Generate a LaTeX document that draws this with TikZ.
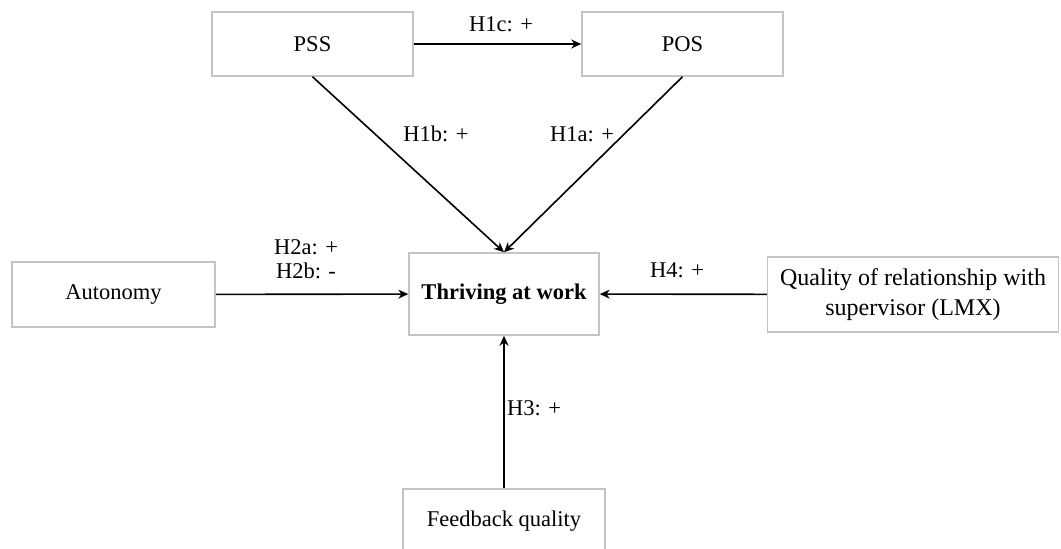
\documentclass[tikz,border=0pt]{standalone}
\usepackage{fontspec}
\setmainfont{Liberation Serif}
\usetikzlibrary{arrows.meta}
\definecolor{boxgray}{RGB}{196,196,196}

\begin{document}
\begin{tikzpicture}[
    x=0.5pt, y=-0.5pt,
    font=\fontsize{11.25}{14.5}\selectfont,
    box/.style={rectangle, draw=boxgray, line width=0.75pt, align=center, inner sep=2pt},
    arrow/.style={-{Stealth[length=5pt,width=4.5pt]}, line width=0.8pt},
    hyp/.style={inner sep=1pt}
]
\useasboundingbox (0,0) rectangle (1061,549);
\clip (0,0) rectangle (1061,549);

% Constructs
\node[box, minimum width=100.5pt, minimum height=32pt] (pss) at (312.5,44) {PSS};
\node[box, minimum width=100.5pt, minimum height=32pt] (pos) at (682.5,44) {POS};
\node[box, minimum width=95pt, minimum height=41pt, font=\fontsize{11.25}{14.5}\selectfont\bfseries] (thriving) at (504,294) {Thriving at work};
\node[box, minimum width=101.5pt, minimum height=32.5pt] (autonomy) at (113.5,294.5) {Autonomy};
\node[box, minimum width=145.5pt, minimum height=37.5pt, font=\fontsize{12}{15}\selectfont] (lmx) at (913,294.5) {Quality of relationship with\\supervisor (LMX)};
\node[box, minimum width=101pt, minimum height=32pt] (feedback) at (504,521) {Feedback quality};

% Hypotheses
\node[hyp] (h1c) at (501,24) {H1c: +};
\node[hyp] (h1b) at (436,134) {H1b: +};
\node[hyp] (h1a) at (582,134) {H1a: +};
\node[hyp] (h2a) at (306,247) {H2a: +};
\node[hyp] (h2b) at (306,271) {H2b: -};
\node[hyp] (h4) at (677,270) {H4: +};
\node[hyp] (h3) at (534,408) {H3: +};

% Connections
\draw[arrow] (pss) -- (pos);
\draw[arrow] (pss.south) -- (thriving.north);
\draw[arrow] (pos.south) -- (thriving.north);
\draw[arrow] (autonomy) -- (thriving);
\draw[arrow] (lmx) -- (thriving);
\draw[arrow] (feedback) -- (thriving);

\end{tikzpicture}
\end{document}
